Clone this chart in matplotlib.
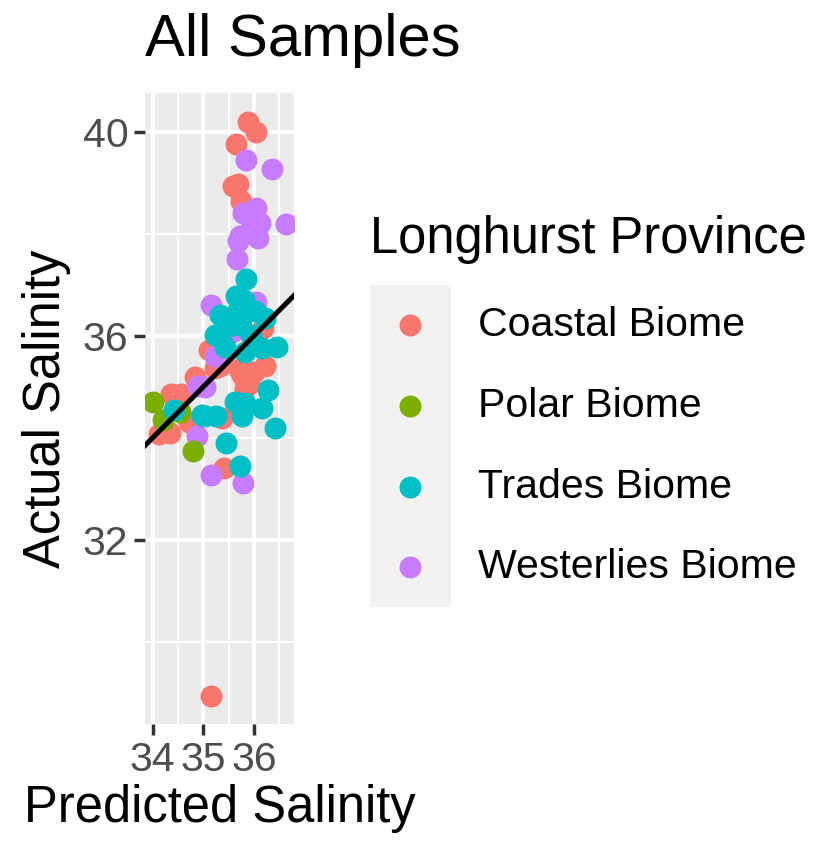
import matplotlib.pyplot as plt
from matplotlib.lines import Line2D
from matplotlib.patches import Rectangle

plt.rcParams['font.family'] = ['Liberation Sans', 'DejaVu Sans']

# Predicted / actual salinity per Longhurst biome
coastal_x = [35.89, 36.04, 35.64, 35.58, 35.69, 35.75, 36.18, 35.12, 35.33, 36.21,
             35.76, 35.82, 35.70, 35.90, 36.00, 35.29, 34.83, 34.37, 34.57, 34.72,
             35.36, 34.12, 34.34, 35.41, 35.16, 35.23]
coastal_y = [40.20, 39.99, 39.76, 38.94, 38.97, 38.65, 36.15, 35.73, 35.40, 35.40,
             35.24, 34.97, 35.35, 35.05, 35.30, 35.46, 35.20, 34.86, 34.86, 34.32,
             34.39, 34.08, 34.10, 33.41, 28.94, 35.37]

polar_x = [34.01, 34.21, 34.80, 34.55]
polar_y = [34.71, 34.35, 33.74, 34.50]

trades_x = [35.84, 35.64, 35.33, 36.02, 36.21, 35.69, 35.23, 35.75, 36.45, 35.95,
            35.43, 35.82, 36.15, 36.28, 35.62, 35.82, 36.15, 34.97, 35.26, 35.76,
            36.42, 34.42, 35.44, 35.72, 35.80, 35.50, 35.03]
trades_y = [37.12, 36.78, 36.41, 36.48, 36.35, 36.51, 36.02, 36.22, 35.79, 36.02,
            35.79, 35.69, 35.76, 34.94, 34.71, 34.68, 34.58, 34.45, 34.42, 34.42,
            34.20, 34.55, 33.90, 33.44, 36.70, 36.20, 34.42]

westerlies_x = [35.84, 36.36, 36.05, 35.79, 36.12, 36.64, 35.92, 35.72, 36.08, 35.69,
                35.66, 35.16, 36.05, 35.56, 35.23, 34.90, 35.03, 34.87, 35.16, 35.79]
westerlies_y = [39.44, 39.27, 38.50, 38.41, 38.21, 38.20, 38.08, 37.95, 37.92, 37.85,
                37.50, 36.61, 36.67, 36.08, 35.60, 35.02, 35.00, 34.04, 33.27, 33.11]

groups = [
    ('Coastal Biome', coastal_x, coastal_y, '#F8766D'),
    ('Westerlies Biome', westerlies_x, westerlies_y, '#C77CFF'),
    ('Polar Biome', polar_x, polar_y, '#7CAE00'),
    ('Trades Biome', trades_x, trades_y, '#00BFC4'),
]
legend_order = ['Coastal Biome', 'Polar Biome', 'Trades Biome', 'Westerlies Biome']
colors = {g[0]: g[3] for g in groups}

fig = plt.figure(figsize=(8.14, 8.46), dpi=100)
ax = fig.add_axes([145 / 814, 1 - 724 / 846, 149 / 814, 631 / 846])
ax.set_facecolor('#EBEBEB')

for name, xs, ys, col in groups:
    ax.scatter(xs, ys, s=250, color=col, linewidths=0, zorder=3)

ax.set_xlim(33.85, 36.79)
ax.set_ylim(28.39, 40.76)
# identity line
ax.axline((34, 34), slope=1, color='black', linewidth=3.6, zorder=4)

ax.set_xticks([34, 35, 36])
ax.set_yticks([32, 36, 40])
ax.set_xticks([34.5, 35.5, 36.5], minor=True)
ax.set_yticks([30, 34, 38], minor=True)
ax.grid(which='major', color='white', linewidth=2.8, zorder=1)
ax.grid(which='minor', color='white', linewidth=1.4, zorder=1)
ax.set_axisbelow(True)
for sp in ax.spines.values():
    sp.set_visible(False)
ax.tick_params(which='major', length=8, width=2.5, color='#333333',
               labelsize=29.5, labelcolor='#4D4D4D', pad=4)
ax.tick_params(which='minor', length=0)

ax.set_xlabel('Predicted Salinity', fontsize=36.5, labelpad=4)
ax.set_ylabel('Actual Salinity', fontsize=36.5, labelpad=8)
ax.set_title('All Samples', fontsize=43, loc='left', pad=27)

# legend drawn in figure pixels
def fx(px):
    return px / 814

def fy(py):
    return 1 - py / 846

fig.text(fx(370), fy(240), 'Longhurst Province', fontsize=36.5,
         ha='left', va='center')
fig.patches.append(Rectangle((fx(370), fy(607)), fx(451) - fx(370), fy(285) - fy(607),
                             transform=fig.transFigure, facecolor='#F2F2F2',
                             edgecolor='none', zorder=0))
key_y = [325, 406, 487, 567]
for name, ky in zip(legend_order, key_y):
    fig.lines.append(Line2D([fx(410)], [fy(ky)], marker='o', markersize=15.8,
                            color=colors[name], linestyle='none',
                            markeredgewidth=0, transform=fig.transFigure))
    fig.text(fx(478), fy(ky), name, fontsize=29.5, ha='left', va='center')

fig.savefig('out.png', dpi=100)
